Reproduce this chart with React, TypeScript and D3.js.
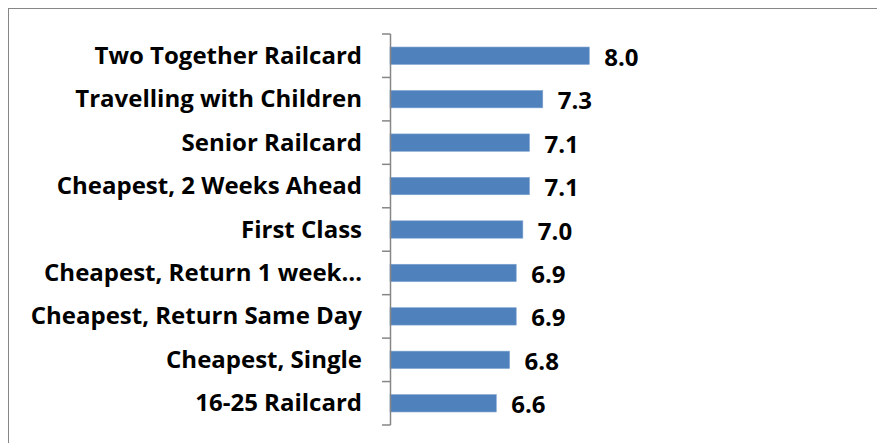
import * as d3 from 'd3'

const categories = [
  'Two Together Railcard',
  'Travelling with Children',
  'Senior Railcard',
  'Cheapest, 2 Weeks Ahead',
  'First Class',
  'Cheapest, Return 1 week…',
  'Cheapest, Return Same Day',
  'Cheapest, Single',
  '16-25 Railcard',
]
const values = [8.0, 7.3, 7.1, 7.1, 7.0, 6.9, 6.9, 6.8, 6.6]

const W = 877
const H = 443
const axisX = 390
const font = '"Open Sans", Lato, sans-serif'

export default function App() {
  const y = d3.scaleBand<string>().domain(categories).range([34, 425]).paddingInner(0.6).paddingOuter(0.3)
  const x = d3.scaleLinear().domain([5, 9]).range([axisX, 655.7])
  const step = y.step()
  const ticks = d3.range(categories.length + 1).map((i) => 34 + i * step)

  return (
    <svg width={W} height={H} style={{ position: 'absolute', left: 0, top: 0, background: '#fff' }}>
      <rect x={8.5} y={8.5} width={W + 20} height={H + 20} fill="#fff" stroke="#868686" />
      {categories.map((c, i) => (
        <g key={c}>
          <rect
            x={axisX}
            y={y(c)}
            width={x(values[i]) - axisX}
            height={y.bandwidth()}
            fill="#4F81BD"
            stroke="#7fa3d0"
            strokeWidth={0.6}
          />
          <text
            x={362}
            y={(y(c) ?? 0) + y.bandwidth() / 2 - 1.5}
            textAnchor="end"
            dominantBaseline="central"
            fontFamily={font}
            fontWeight="bold"
            fontSize={24}
            fill="#000"
          >
            {c}
          </text>
          <text
            x={x(values[i]) + 15}
            y={(y(c) ?? 0) + y.bandwidth() / 2 + 0.5}
            dominantBaseline="central"
            fontFamily={font}
            fontWeight="bold"
            fontSize={24}
            fill="#000"
          >
            {values[i].toFixed(1)}
          </text>
        </g>
      ))}
      <line x1={axisX + 0.5} x2={axisX + 0.5} y1={34} y2={425} stroke="#868686" strokeWidth={1.5} />
      {ticks.map((t) => (
        <line key={t} x1={382} x2={axisX + 0.5} y1={t} y2={t} stroke="#868686" strokeWidth={1.5} />
      ))}
    </svg>
  )
}
